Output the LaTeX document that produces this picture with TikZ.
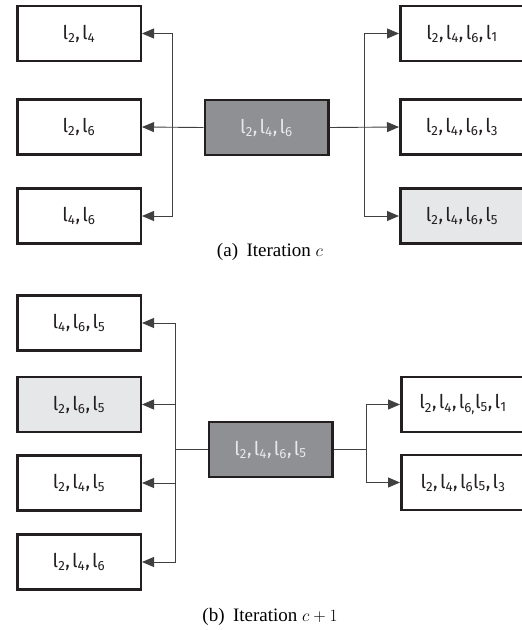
\documentclass[tikz,border=0pt]{standalone}
\usepackage{fontspec}
\setmainfont{Liberation Serif}
\newfontfamily\boxfont{Fira Sans}
\usetikzlibrary{arrows.meta}
\definecolor{boxline}{HTML}{231F20}
\definecolor{darkfill}{HTML}{8F9094}
\definecolor{lightfill}{HTML}{E6E7E8}
\definecolor{lighttext}{HTML}{E8E8E8}
\newcommand{\li}[1]{l\textsubscript{#1}}
\newcommand{\cm}{,\kern0.12em}
\begin{document}
\begin{tikzpicture}[x=1pt,y=-1pt,
  box/.style={draw=boxline, line width=2.5pt, fill=white, minimum width=123.5pt,
    minimum height=55pt, inner sep=0pt, text=boxline,
    font=\boxfont\fontsize{19}{21}\selectfont},
  darkbox/.style={box, fill=darkfill, text=lighttext},
  lightbox/.style={box, fill=lightfill},
  conn/.style={draw=black!75, line width=0.9pt},
  arr/.style={conn, -{Triangle[length=12pt,width=10pt]}},
  captext/.style={font=\fontsize{19}{22}\selectfont}]
\useasboundingbox (0,0) rectangle (522,630);
\clip (0,0) rectangle (522,630);
% ---- (a) ----
\node[box] (L1) at (79,33.5) {\li{2}\cm\li{4}};
\node[box] (L2) at (79,127) {\li{2}\cm\li{6}};
\node[box] (L3) at (79,216) {\li{4}\cm\li{6}};
\node[darkbox] (C) at (266.5,127.5) {\li{2}\cm\li{4}\cm\li{6}};
\node[box] (R1) at (462,33.5) {\li{2}\cm\li{4}\cm\li{6}\cm\li{1}};
\node[box] (R2) at (462,127) {\li{2}\cm\li{4}\cm\li{6}\cm\li{3}};
\node[lightbox] (R3) at (462,216) {\li{2}\cm\li{4}\cm\li{6}\cm\li{5}};
\coordinate (jl) at (172,127);
\coordinate (jr) at (364,127);
\draw[arr] (C.west) -- (L2.east);
\draw[arr] (jl) |- (L1.east);
\draw[arr] (jl) |- (L3.east);
\draw[arr] (C.east) -- (R2.west);
\draw[arr] (jr) |- (R1.west);
\draw[arr] (jr) |- (R3.west);
\node[captext] (capa) at (270,252) {(a)\hspace{0.45em}Iteration $c$};
% ---- (b) ----
\node[box] (B1) at (79,323) {\li{4}\cm\li{6}\cm\li{5}};
\node[lightbox] (B2) at (79,404.5) {\li{2}\cm\li{6}\cm\li{5}};
\node[box] (B3) at (79,483) {\li{2}\cm\li{4}\cm\li{5}};
\node[box] (B4) at (79,562) {\li{2}\cm\li{4}\cm\li{6}};
\node[darkbox] (D) at (270.5,449.5) {\li{2}\cm\li{4}\cm\li{6}\cm\li{5}};
\node[box] (S1) at (463,404.5) {\li{2}\cm\li{4}\cm\li{6,}\li{5}\cm\li{1}};
\node[box] (S2) at (463,482.5) {\li{2}\cm\li{4}\cm\li{6}\li{5}\cm\li{3}};
\coordinate (jl2) at (175,449.5);
\coordinate (jr2) at (366,449.5);
\draw[conn] (D.west) -- (jl2);
\draw[arr] (jl2) |- (B1.east);
\draw[arr] (jl2) |- (B2.east);
\draw[arr] (jl2) |- (B3.east);
\draw[arr] (jl2) |- (B4.east);
\draw[conn] (D.east) -- (jr2);
\draw[arr] (jr2) |- (S1.west);
\draw[arr] (jr2) |- (S2.west);
\node[captext] (capb) at (270,617) {(b)\hspace{0.45em}Iteration $c+1$};
\end{tikzpicture}
\end{document}
